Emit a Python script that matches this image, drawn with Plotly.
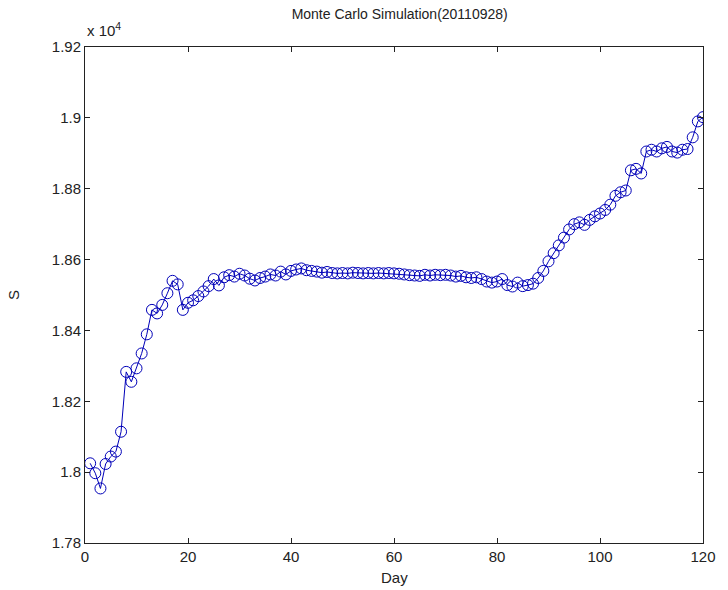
import plotly.graph_objects as go

days = list(range(1, 121))

# S values (units) (axis labelled x 10^4)
s_values = [
    18025, 17997, 17954, 18023, 18044, 18058, 18114, 18283, 18255, 18293,
    18335, 18389, 18458, 18448, 18472, 18505, 18540, 18530, 18458, 18478,
    18485, 18497, 18510, 18525, 18545, 18527, 18550, 18556, 18552, 18560,
    18555, 18546, 18541, 18548, 18552, 18558, 18555, 18566, 18558, 18568,
    18572, 18575, 18570, 18568, 18566, 18563, 18565, 18562, 18561, 18562,
    18561, 18563, 18562, 18561, 18562, 18561, 18562, 18561, 18562, 18561,
    18560, 18558, 18556, 18555, 18554, 18557, 18555, 18557, 18556, 18557,
    18555, 18552, 18554, 18550, 18548, 18550, 18545, 18538, 18535, 18538,
    18545, 18528, 18524, 18535, 18525, 18528, 18532, 18548, 18568, 18595,
    18618, 18640, 18662, 18685, 18700, 18705, 18698, 18712, 18722, 18730,
    18740, 18755, 18780, 18790, 18795, 18852, 18856, 18843, 18905, 18910,
    18905, 18914, 18918, 18905, 18902, 18910, 18912, 18945, 18990, 19002,
]

y_tickvals = [17800, 18000, 18200, 18400, 18600, 18800, 19000, 19200]
y_ticktext = ["1.78", "1.8", "1.82", "1.84", "1.86", "1.88", "1.9", "1.92"]
x_tickvals = [0, 20, 40, 60, 80, 100, 120]

title_text = "Monte Carlo Simulation(20110928)"
x_label = "Day"
y_label = "S"

FONT = "Liberation Sans Narrow, Liberation Sans, Arial, sans-serif"
BLUE = "#0000b8"

fig = go.Figure()
fig.add_trace(go.Scatter(
    x=days, y=s_values, mode="lines+markers",
    line=dict(color=BLUE, width=1),
    marker=dict(symbol="circle-open", size=11, color=BLUE, line=dict(width=1, color=BLUE)),
    showlegend=False,
))

axis_common = dict(
    showline=True, linecolor="#222222", linewidth=1, mirror="ticks",
    ticks="inside", ticklen=5, tickcolor="#222222", showgrid=False, zeroline=False,
    tickfont=dict(family=FONT, size=15, color="#222222"),
)

fig.update_layout(
    width=728, height=590,
    margin=dict(l=85, r=17, t=47, b=47),
    paper_bgcolor="white", plot_bgcolor="white",
    title=dict(text=title_text, x=0.549, xanchor="center", y=0.976, yanchor="middle",
               yref="container", font=dict(family=FONT, size=14, color="#222222")),
    xaxis=dict(range=[0, 120], tickvals=x_tickvals, **axis_common),
    yaxis=dict(range=[17800, 19200], tickvals=y_tickvals, ticktext=y_ticktext, **axis_common),
    annotations=[
        dict(text="x 10<sup>4</sup>", xref="paper", yref="paper", x=0, y=1,
             xanchor="left", yanchor="bottom", yshift=6, showarrow=False,
             font=dict(family=FONT, size=15, color="#222222")),
        dict(text=x_label, xref="paper", yref="paper", x=0.5, y=0, yshift=-34,
             xanchor="center", yanchor="middle", showarrow=False,
             font=dict(family=FONT, size=15, color="#222222")),
        dict(text=y_label, xref="paper", yref="paper", x=0, y=0.5, xshift=-72,
             xanchor="center", yanchor="middle", textangle=-90, showarrow=False,
             font=dict(family=FONT, size=15, color="#222222")),
    ],
)

fig.write_html("out.html")
